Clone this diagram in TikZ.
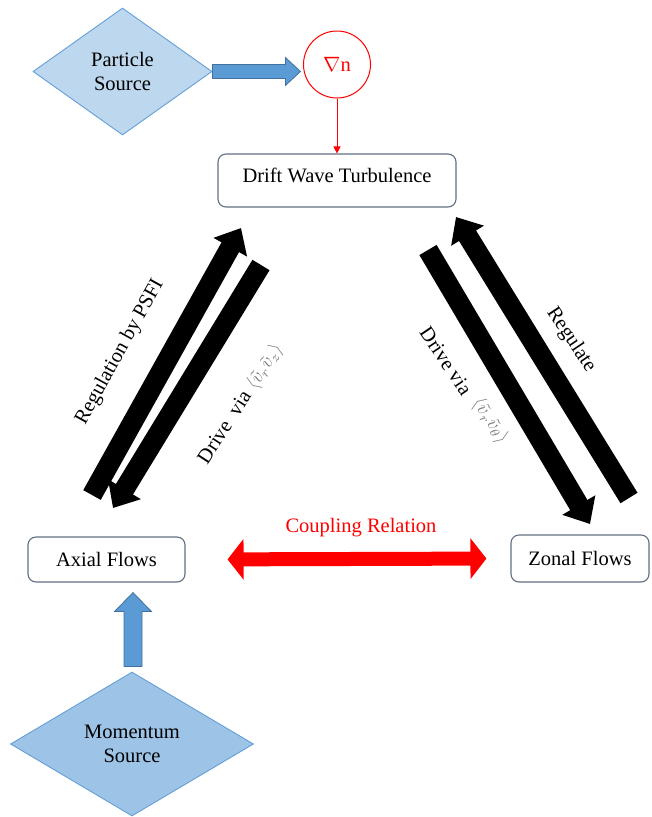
\documentclass[tikz,border=0pt]{standalone}
\usepackage{graphicx}
\usepackage{fontspec}
\setmainfont{Liberation Serif}
\usetikzlibrary{arrows.meta,shapes.geometric,calc}
\definecolor{boxline}{RGB}{98,112,132}
\definecolor{partfill}{RGB}{189,215,238}
\definecolor{momfill}{RGB}{157,195,230}
\definecolor{srcline}{RGB}{100,160,215}
\definecolor{arrowblue}{RGB}{91,155,213}
\definecolor{arrowedge}{RGB}{65,113,156}
\definecolor{mathgray}{RGB}{125,125,125}
\newcommand{\bigmath}[1]{\fontsize{10}{12}\selectfont\scalebox{1.9}{$#1$}}
\begin{document}
\begin{tikzpicture}[x=1pt,y=1pt,font=\fontsize{20.5}{24}\selectfont,
  flowbox/.style={draw=boxline,line width=1.1pt,rounded corners=8pt,fill=white,inner sep=0pt},
  srcdiamond/.style={diamond,draw=srcline,line width=0.9pt,inner sep=0pt,align=center},
  fatblack/.style={line width=20pt,black,-{Triangle[length=22pt,width=37pt]}},
  coupling/.style={line width=14pt,red,{Triangle[length=16pt,width=40pt]}-{Triangle[length=16pt,width=40pt]}},
  bluearrow/.style={fill=arrowblue,draw=arrowedge,line width=0.8pt},
  graymath/.style={text=mathgray}]
\useasboundingbox (0,0) rectangle (651,-817);

% nodes
\node[flowbox,minimum width=238pt,minimum height=53pt,text height=14pt,text depth=10pt] (dwt) at (337,-180.5) {Drift Wave Turbulence};
\node[flowbox,minimum width=157pt,minimum height=45pt] (axial) at (106.5,-559.5) {Axial Flows};
\node[flowbox,minimum width=138pt,minimum height=47pt] (zonal) at (580,-558.5) {Zonal Flows};
\node[srcdiamond,fill=partfill,minimum width=179pt,minimum height=127pt] (part) at (122.5,-71.5) {Particle\\Source};
\node[srcdiamond,fill=momfill,minimum width=243pt,minimum height=144pt] (mom) at (132,-744) {Momentum\\Source};
\node[circle,draw=red,line width=1pt,minimum size=67pt,inner sep=0pt,text=red] (grad) at (337,-64.5) {$\nabla$n};

% blue arrows
\draw[bluearrow] ($(part.east)+(0,7)$) -- ++(73,0) -- ++(0,7) -- ++(15,-14) -- ++(-15,-14) -- ++(0,7) -- ++(-73,0) -- cycle;
\draw[bluearrow] ($(mom.north)+(-8,5)$) -- ++(18,0) -- ++(0,55) -- ++(9.5,0) -- ++(-18.5,19) -- ++(-18.5,-19) -- ++(9.5,0) -- cycle;

% red thin arrow
\draw[red,line width=0.6pt,-{Triangle[length=7pt,width=7pt]}] (grad.south) -- (dwt.north);

% coupling arrow
\draw[coupling,shorten <=42pt,shorten >=24pt] (axial.east) -- (zonal.west);
\node[text=red] (coup) at (361,-528) {Coupling Relation};

% black arrows
\coordinate (lu0) at (92,-495);
\coordinate (lu1) at (241,-228);
\coordinate (ld0) at (261,-265);
\coordinate (ld1) at (113,-508);
\coordinate (ru0) at (629,-498);
\coordinate (ru1) at (456,-217);
\coordinate (rd0) at (428,-250);
\coordinate (rd1) at (590,-524);
\draw[fatblack] (lu0) -- (lu1);
\draw[fatblack] (ld0) -- (ld1);
\draw[fatblack] (ru0) -- (ru1);
\draw[fatblack] (rd0) -- (rd1);

% labels
\node[rotate=61] (lreg) at (120,-352) {Regulation by PSFI};
\node[rotate=57] (ldrv) at (224,-427) {Drive\ \ via};
\node[rotate=57,graymath] (lmath) at (265,-367) {\bigmath{\langle\tilde{v}_r\tilde{v}_z\rangle}};
\node[rotate=-56] (rreg) at (571,-340) {Regulate};
\node[rotate=-56] (rdrv) at (446,-361) {Drive via};
\node[rotate=-56,graymath] (rmath) at (490,-421) {\bigmath{\langle\tilde{v}_r\tilde{v}_\theta\rangle}};
\end{tikzpicture}
\end{document}
